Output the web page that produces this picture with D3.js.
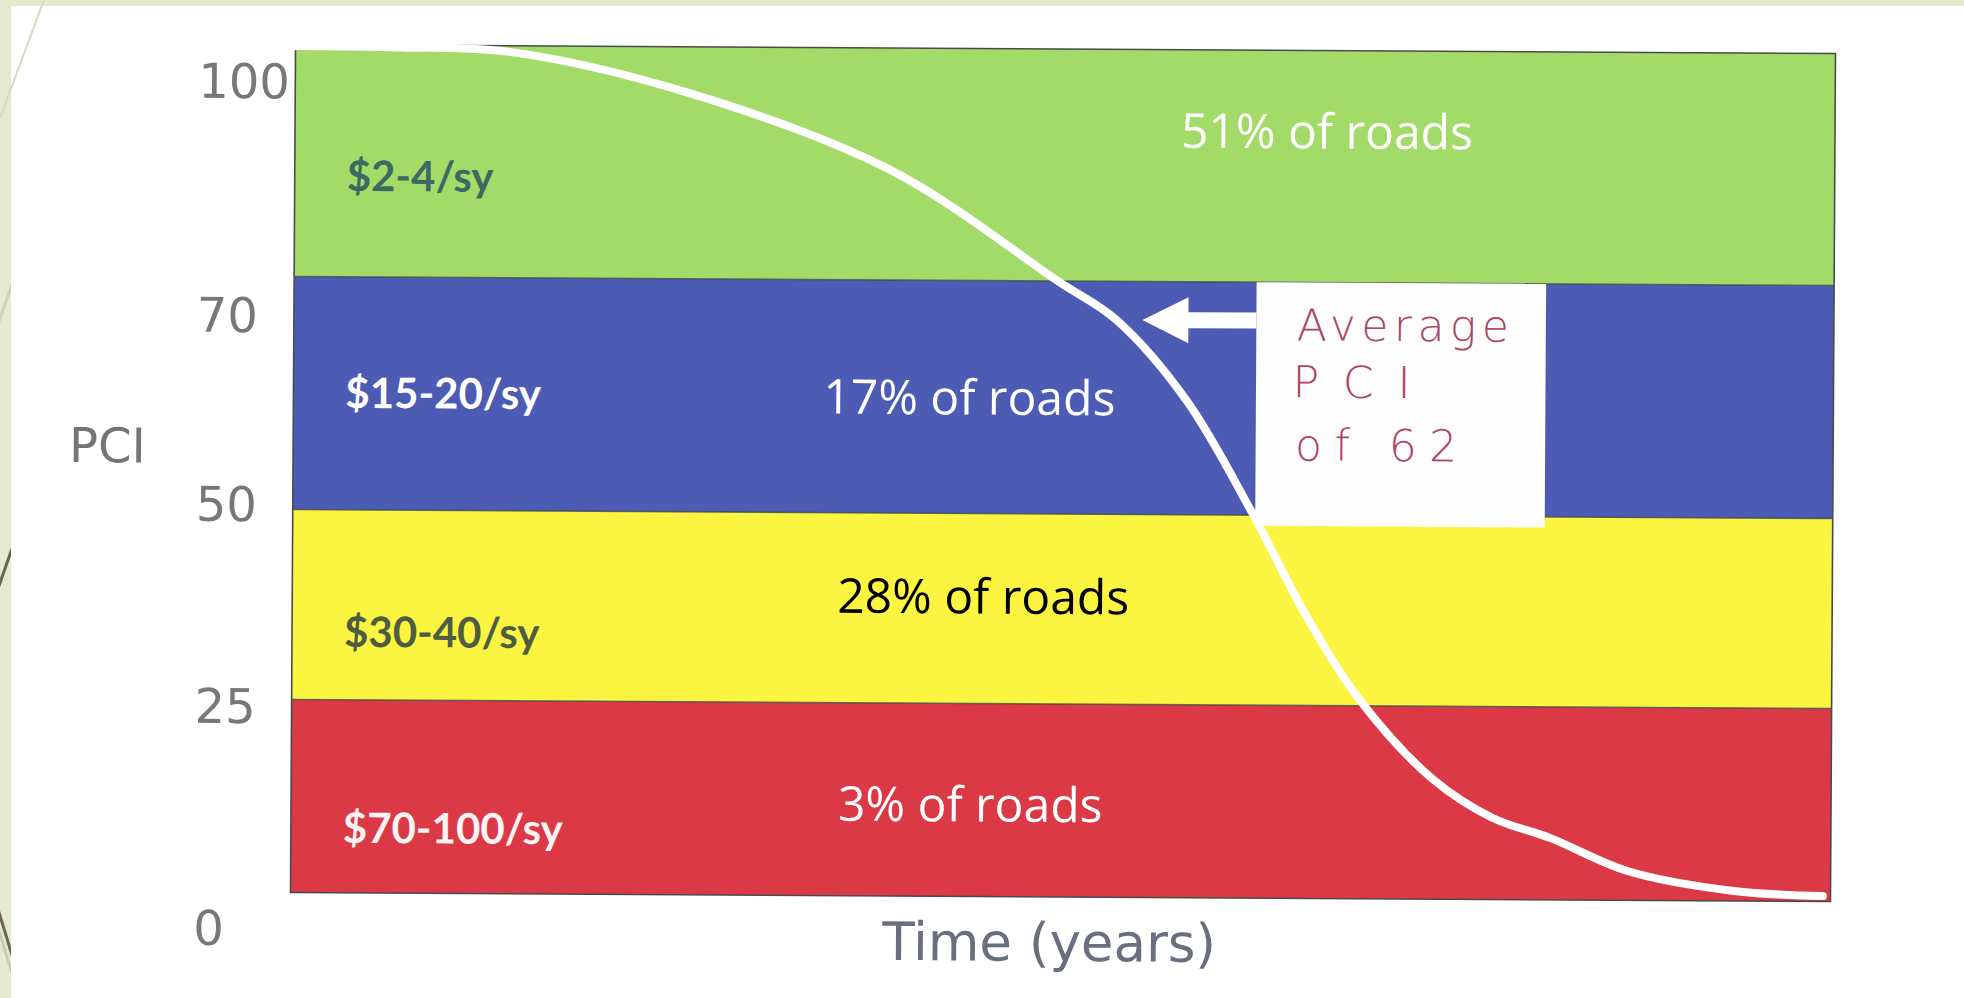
<!DOCTYPE html>
<html><head><meta charset="utf-8">
<script src="https://cdn.jsdelivr.net/npm/d3@7"></script>
<style>html,body{margin:0;padding:0;background:#e4eacd;overflow:hidden}</style>
</head><body><svg id="c" width="1964" height="998"></svg>
<script>
// ---------- data ----------
const bandCost  = ["$70-100/sy", "$30-40/sy", "$15-20/sy", "$2-4/sy"];
const bandLow   = [0, 25, 50, 70];
const bandHigh  = [25, 50, 70, 100];
const bandShare = ["3% of roads", "28% of roads", "17% of roads", "51% of roads"];
const yTicks    = [0, 25, 50, 70, 100];
const yTickLabels = ["0", "25", "50", "70", "100"];
const timeYears = [0, 6.8, 13.9, 25.6, 38.7, 49.7, 53.4, 58.0, 62.3, 65.9, 69.5, 74.1, 78.0, 81.8, 86.8, 93.7, 99.5];
const pciValues = [99.8, 99.7, 99.2, 94.0, 84.2, 69.9, 66.7, 59.8, 50.2, 36.6, 25.4, 15.6, 10.6, 8.0, 3.8, 1.3, 0.7];
const noteLines = ["Average", "PCI", "of 62"];
const noteTime  = [62.5, 81.3];   // annotation box extent (time units)
const notePCI   = [48.6, 70];     // annotation box extent (PCI)
const arrowPCI  = 66.7;
const arrowTipTime = 55.1;
const yTitle = "PCI";
const xTitle = "Time (years)";

// ---------- layout / style ----------
const W = 1964, H = 998;
const plot = {left: 293, right: 1833, top: 49, bottom: 897};
const bandFill = ["#dc3947", "#fbf440", "#4c5cb5", "#a3db69"];
const costFill = ["#fff4f4", "#4d5d43", "#ffffff", "#3c6a62"];
const shareFill = ["#ffffff", "#000000", "#ffffff", "#ffffff"];
const costBase = [847, 651, 412, 195];
const shareX = [840, 838, 823, 1179];
const shareBase = [822, 614, 415, 147];
const tickBase = [950, 728, 526, 337, 103];
const noteBase = [339, 396, 459];
const noteLen = [212, 118, 162];
const noteX = [1296, 1292, 1295];

const svg = d3.select("#c");
// slide frame
svg.append("rect").attr("x",0).attr("y",0).attr("width",W).attr("height",H).attr("fill","#e4eacd");
const deco = svg.append("g");
deco.append("line").attr("x1",-20).attr("y1",376).attr("x2",50).attr("y2",175).attr("stroke","#cdd3b6").attr("stroke-width",3);
deco.append("line").attr("x1",-20).attr("y1",640).attr("x2",50).attr("y2",440).attr("stroke","#6e6450").attr("stroke-width",3);
deco.append("line").attr("x1",-20).attr("y1",850).attr("x2",50).attr("y2",1080).attr("stroke","#6e6450").attr("stroke-width",3);
deco.append("line").attr("x1",-20).attr("y1",868).attr("x2",50).attr("y2",1098).attr("stroke","#c8ceb0").attr("stroke-width",3);
svg.append("rect").attr("x",11).attr("y",6).attr("width",W-11).attr("height",H-6).attr("fill","#ffffff");
svg.append("line").attr("x1",44).attr("y1",0).attr("x2",0).attr("y2",118).attr("stroke","#d5dac2").attr("stroke-width",2);

// scales
const x = d3.scaleLinear().domain([0, 100]).range([plot.left, plot.right]);
const y = d3.scaleLinear().domain(yTicks).range([plot.bottom, 704, 514, 281, plot.top]);

const g = svg.append("g").attr("transform", "rotate(0.34,1063,471)");

// bands
const bands = bandCost.map((c, i) => ({cost: c, lo: bandLow[i], hi: bandHigh[i], share: bandShare[i], i}));
g.selectAll("rect.band").data(bands).join("rect").attr("class","band")
  .attr("x", x(0)).attr("width", x(100) - x(0))
  .attr("y", d => y(d.hi)).attr("height", d => y(d.lo) - y(d.hi))
  .attr("fill", d => bandFill[d.i]);
g.selectAll("line.sep").data([25, 50, 70]).join("line").attr("class","sep")
  .attr("x1", x(0)).attr("x2", x(100)).attr("y1", d => y(d)).attr("y2", d => y(d))
  .attr("stroke", "#3e4a4a").attr("stroke-width", 1.4).attr("opacity", 0.8);
g.append("rect").attr("x", x(0)).attr("y", y(100)).attr("width", x(100)-x(0)).attr("height", y(0)-y(100))
  .attr("fill","none").attr("stroke","#4a4a4a").attr("stroke-width",1.6);

// cost labels
g.selectAll("text.cost").data(bands).join("text").attr("class","cost")
  .attr("x", 345).attr("y", d => costBase[d.i])
  .attr("font-family","Lato, 'Open Sans', sans-serif").attr("font-weight",700).attr("font-size",42)
  .attr("fill", d => costFill[d.i]).text(d => d.cost);

// annotation box + arrow
g.append("rect").attr("x", x(noteTime[0])).attr("y", y(notePCI[1]))
  .attr("width", x(noteTime[1]) - x(noteTime[0])).attr("height", y(notePCI[0]) - y(notePCI[1]))
  .attr("fill", "#fdfdfd");
const ay = y(arrowPCI), bx = x(noteTime[0]), tx = x(arrowTipTime), hb = tx + 46;
g.append("path")
  .attr("d", `M${bx},${ay-8}L${hb},${ay-8}L${hb},${ay-23}L${tx},${ay}L${hb},${ay+23}L${hb},${ay+8}L${bx},${ay+8}Z`)
  .attr("fill", "#ffffff");

// share labels
g.selectAll("text.share").data(bands).join("text").attr("class","share")
  .attr("x", d => shareX[d.i]).attr("y", d => shareBase[d.i])
  .attr("font-family","'Open Sans', 'Noto Sans', sans-serif").attr("font-size",48)
  .attr("fill", d => shareFill[d.i]).text(d => d.share);

// handwritten note
g.selectAll("text.note").data(noteLines).join("text").attr("class","note")
  .attr("x", (d, i) => noteX[i]).attr("y", (d, i) => noteBase[i])
  .attr("textLength", (d, i) => noteLen[i]).attr("lengthAdjust","spacing")
  .attr("font-family","'DejaVu Sans', sans-serif").attr("font-weight",300).attr("font-size",44)
  .attr("fill","#ad4565").text(d => d);

// PCI curve
const pts = timeYears.map((t, i) => [t, pciValues[i]]);
g.append("path").datum(pts)
  .attr("d", d3.line().x(d => x(d[0])).y(d => y(d[1])).curve(d3.curveCatmullRom.alpha(0.5)))
  .attr("fill","none").attr("stroke","#ffffff").attr("stroke-width",8).attr("stroke-linecap","round");

// y tick labels
g.selectAll("text.tick").data(yTickLabels).join("text").attr("class","tick")
  .attr("x", 196).attr("y", (d, i) => tickBase[i])
  .attr("font-family","'DejaVu Sans', Verdana, sans-serif").attr("font-size",48)
  .attr("fill","#787878").text(d => d);

// axis titles
g.append("text").attr("x", 69).attr("y", 468)
  .attr("font-family","'DejaVu Sans', Verdana, sans-serif").attr("font-size",48)
  .attr("fill","#757575").text(yTitle);
g.append("text").attr("x", 1052).attr("y", 961).attr("text-anchor","middle")
  .attr("font-family","'DejaVu Sans', Verdana, sans-serif").attr("font-size",53)
  .attr("fill","#6a6f80").text(xTitle);
</script></body></html>
